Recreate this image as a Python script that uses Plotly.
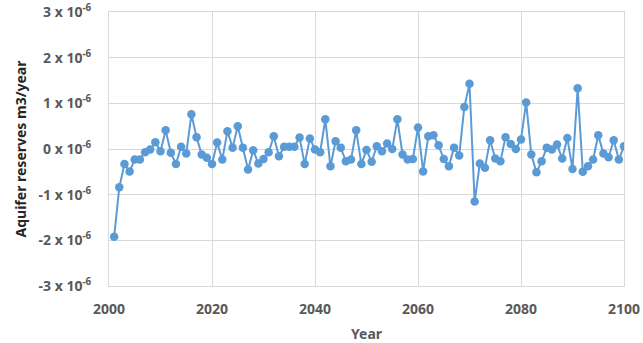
import plotly.graph_objects as go

years = list(range(2001, 2101))
# values in units of 1e-6 m3/year
values = [
    -1.92, -0.84, -0.33, -0.49, -0.23, -0.23, -0.07, -0.01, 0.15, -0.05,
    0.41, -0.08, -0.33, 0.05, -0.10, 0.76, 0.26, -0.12, -0.19, -0.33,
    0.14, -0.23, 0.39, 0.03, 0.50,
    0.03, -0.45, -0.03, -0.32, -0.22, -0.07, 0.28, -0.16, 0.05, 0.05,
    0.05, 0.25, -0.33, 0.23, -0.01, -0.07, 0.65, -0.38, 0.17, 0.03,
    -0.27, -0.23, 0.41, -0.33, -0.02,
    -0.28, 0.06, -0.05, 0.12, 0.00, 0.65, -0.12, -0.23, -0.22, 0.47,
    -0.49, 0.28, 0.30, 0.08, -0.22, -0.38, 0.03, -0.14, 0.92, 1.43,
    -1.15, -0.32, -0.41, 0.19, -0.21,
    -0.27, 0.26, 0.11, 0.00, 0.21, 1.02, -0.12, -0.51, -0.27, 0.03,
    -0.01, 0.10, -0.21, 0.24, -0.44, 1.33, -0.50, -0.38, -0.23, 0.30,
    -0.10, -0.18, 0.19, -0.23, 0.06,
]
y_tickvals = [-3, -2, -1, 0, 1, 2, 3]
y_ticktext = [f"{v} x 10<sup>-6</sup>" for v in y_tickvals]
x_tickvals = [2000, 2020, 2040, 2060, 2080, 2100]

color = "#5B9BD5"
font_family = "Noto Sans"
text_color = "#595959"

fig = go.Figure(go.Scatter(
    x=years, y=values, mode="lines+markers",
    line=dict(color=color, width=2),
    marker=dict(color=color, size=8.5),
))

fig.update_layout(
    width=643, height=343,
    margin=dict(l=109, r=19, t=12, b=57),
    paper_bgcolor="white", plot_bgcolor="white",
    showlegend=False,
    font=dict(family=font_family, color=text_color, size=14),
)
fig.update_xaxes(
    range=[2000, 2100], tickvals=x_tickvals,
    showgrid=True, gridcolor="#d9d9d9", gridwidth=1,
    showline=True, linecolor="#d9d9d9", mirror=True,
    zeroline=False, automargin=False,
    tickfont=dict(family=font_family, size=14, color=text_color, weight="bold"),
    title=dict(text="<b>Year</b>", font=dict(size=14, color=text_color), standoff=14),
    ticklabelstandoff=10,
)
fig.update_yaxes(
    range=[-3, 3], tickvals=y_tickvals, ticktext=y_ticktext,
    showgrid=True, gridcolor="#d9d9d9", gridwidth=1,
    showline=True, linecolor="#d9d9d9", mirror=True,
    zeroline=False, automargin=False,
    tickfont=dict(family=font_family, size=14, color=text_color, weight="bold"),
    title=dict(text="<b>Aquifer reserves m3/year</b>", font=dict(size=14, color="#262626"), standoff=8),
    ticklabelstandoff=14,
)

fig.write_html("out.html")
